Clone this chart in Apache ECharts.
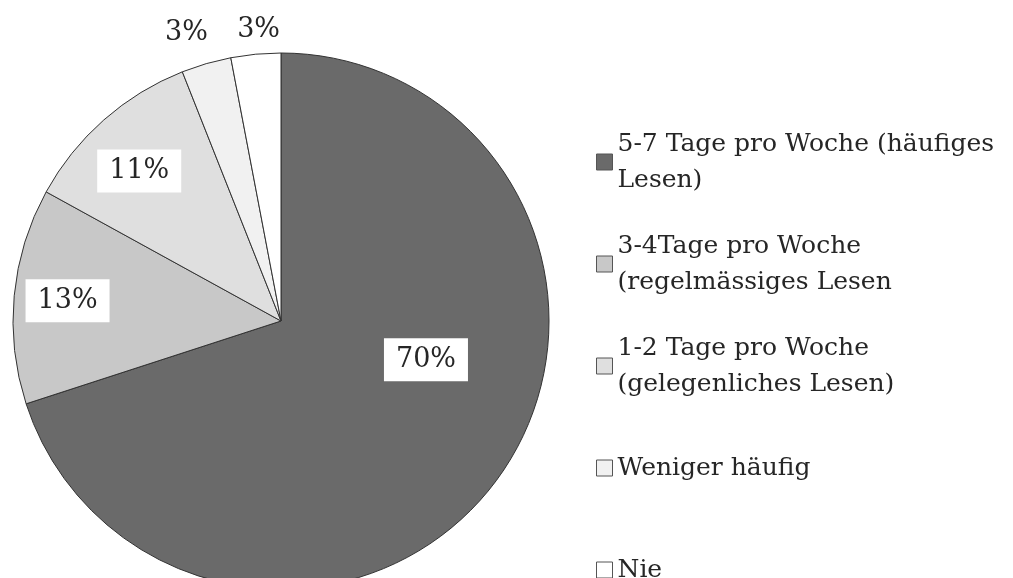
<!DOCTYPE html>
<html>
<head>
<meta charset="utf-8">
<script src="https://cdn.jsdelivr.net/npm/echarts@6/dist/echarts.min.js"></script>
<style>
    html, body { margin: 0; padding: 0; background: #fff; }
    #chart { width: 1013px; height: 578px; }
</style>
</head>
<body>
<div id="chart"></div>
<script>
// Lesehäufigkeit
var categories = [
    '5-7 Tage pro Woche (häufiges\nLesen)',
    '3-4Tage pro Woche\n(regelmässiges Lesen',
    '1-2 Tage pro Woche\n(gelegenliches Lesen)',
    'Weniger häufig',
    'Nie'
];
var values = [70, 13, 11, 3, 3];
var colors = ['#6a6a6a', '#c8c8c8', '#dfdfdf', '#f1f1f1', '#ffffff'];

// label placement: fraction of radius, turn from mid angle (deg)
var labelRadius = [0.56, 0.8, 0.77, 1.13, 1.09];
var labelTurn = [-21, 0, -2, -2, 1];

var center = [281, 321];
var radius = 268;
var total = values.reduce(function (a, b) { return a + b; }, 0);

function labelPoint(idx) {
    var before = 0;
    for (var i = 0; i < idx; i++) before += values[i];
    var mid = (before + values[idx] / 2) / total * 360 + labelTurn[idx];
    var a = mid * Math.PI / 180;
    var r = radius * labelRadius[idx];
    return [center[0] + r * Math.sin(a), center[1] - r * Math.cos(a)];
}

var font = '"DejaVu Serif", serif';

var chart = echarts.init(document.getElementById('chart'));

var option = {
    animation: false,
    backgroundColor: '#fff',
    legend: {
        orient: 'vertical',
        left: 596,
        top: 108,
        height: 700,
        padding: 0,
        itemGap: -6,
        itemWidth: 16,
        itemHeight: 16,
        icon: 'rect',
        selectedMode: false,
        itemStyle: { borderColor: '#555', borderWidth: 1 },
        textStyle: {
            fontFamily: font,
            fontSize: 25,
            lineHeight: 36,
            color: '#262626'
        },
        data: categories.map(function (c) {
            var twoLines = c.indexOf('\n') >= 0;
            return {
                name: c,
                textStyle: {
                    backgroundColor: 'transparent',
                    padding: twoLines ? [36, 0, 0, 0] : [36, 0, 36, 0]
                }
            };
        })
    },
    series: [{
        type: 'pie',
        center: center,
        radius: radius,
        startAngle: 90,
        clockwise: true,
        avoidLabelOverlap: false,
        itemStyle: { borderColor: '#333', borderWidth: 1 },
        label: {
            show: true,
            position: 'inside',
            formatter: '{c}%',
            fontFamily: font,
            fontSize: 27,
            color: '#262626',
            backgroundColor: '#fff',
            padding: [8, 12]
        },
        labelLine: { show: false },
        labelLayout: function (params) {
            var p = labelPoint(params.dataIndex);
            return { x: p[0], y: p[1], align: 'center', verticalAlign: 'middle' };
        },
        data: categories.map(function (c, i) {
            var item = { name: c, value: values[i], itemStyle: { color: colors[i] } };
            if (labelRadius[i] > 1) {
                item.label = { backgroundColor: 'transparent' };
            }
            return item;
        })
    }]
};

chart.setOption(option);
</script>
</body>
</html>
